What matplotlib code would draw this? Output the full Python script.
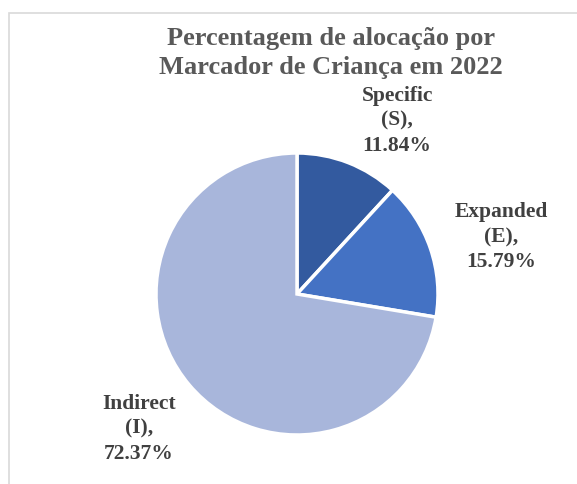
import matplotlib

matplotlib.use("Agg")
import matplotlib.pyplot as plt
from matplotlib.patches import Rectangle

# data
categories = ["Specific\n(S),", "Expanded\n(E),", "Indirect\n(I),"]
shares = [11.84, 15.79, 72.37]
colors = ["#335A9F", "#4472C4", "#A8B6DB"]
title = "Percentagem de alocação por\nMarcador de Criança em 2022"

# label centres in pie units (radius = 1)
label_pos = [(0.71, 1.235), (1.447, 0.41), (-1.12, -0.95)]

W, H = 577, 485
fig = plt.figure(figsize=(W / 100, H / 100), dpi=100)
plt.rcParams["font.family"] = ["Liberation Serif", "DejaVu Serif"]

# light chart frame (runs off the right and bottom edges)
fig.patches.append(Rectangle((9 / W, -0.05), 1.2, (H - 14) / H + 0.05, transform=fig.transFigure,
                             fill=False, edgecolor="#D9D9D9", linewidth=1.2))

cx, cy, r = 297, 295, 141
ax = fig.add_axes([(cx - r) / W, (H - cy - r) / H, 2 * r / W, 2 * r / H])
ax.pie(shares, colors=colors, startangle=90, counterclock=False, radius=1,
       wedgeprops=dict(edgecolor="white", linewidth=2.5))
ax.set_xlim(-1, 1)
ax.set_ylim(-1, 1)
ax.set_aspect("equal")
ax.set_axis_off()

for name, val, (x, y) in zip(categories, shares, label_pos):
    ax.text(x, y, f"{name}\n{val:.2f}%", ha="center", va="center", fontsize=15.5,
            fontweight="bold", color="#404040", linespacing=1.33, clip_on=False)

fig.text(331 / W, 1 - 53 / H, title, ha="center", va="center", fontsize=19,
         fontweight="bold", color="#595959", linespacing=1.32)

fig.savefig("out.png", dpi=100)
